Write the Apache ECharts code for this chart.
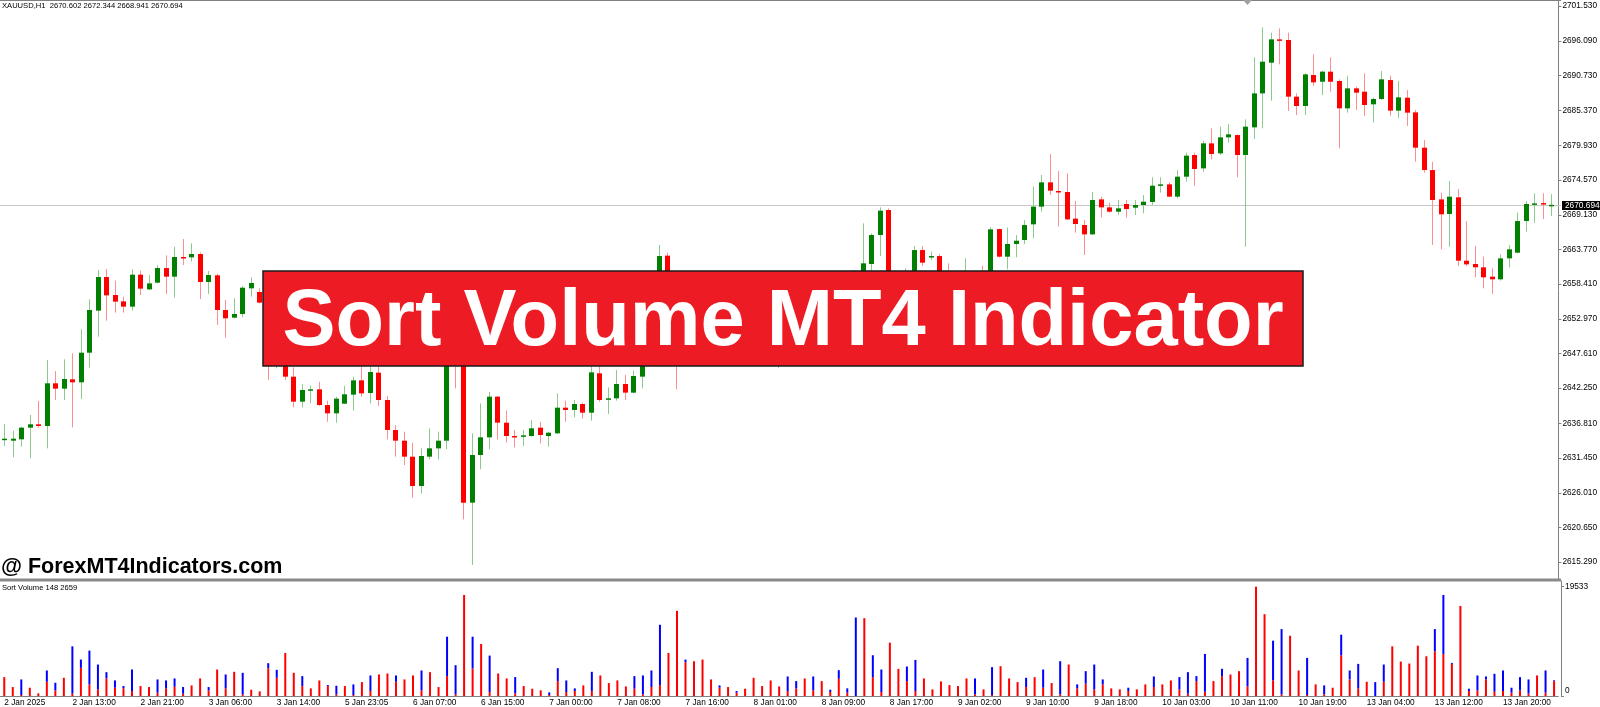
<!DOCTYPE html>
<html>
<head>
<meta charset="utf-8">
<title>Sort Volume MT4 Indicator</title>
<script src="https://cdn.jsdelivr.net/npm/echarts@6/dist/echarts.min.js"></script>
<style>
    html, body { margin: 0; padding: 0; background: #fff; }
    #chart { width: 1600px; height: 707px; }
</style>
</head>
<body>
<div id="chart"></div>
<script>
// XAUUSD H1, one label every 8 bars
var timeLabels = ['2 Jan 2025', '2 Jan 13:00', '2 Jan 21:00', '3 Jan 06:00', '3 Jan 14:00', '5 Jan 23:05',
    '6 Jan 07:00', '6 Jan 15:00', '7 Jan 00:00', '7 Jan 08:00', '7 Jan 16:00', '8 Jan 01:00', '8 Jan 09:00',
    '8 Jan 17:00', '9 Jan 02:00', '9 Jan 10:00', '9 Jan 18:00', '10 Jan 03:00', '10 Jan 11:00', '10 Jan 19:00',
    '13 Jan 04:00', '13 Jan 12:00', '13 Jan 20:00'];

var priceTicks = [2701.53, 2696.09, 2690.73, 2685.37, 2679.93, 2674.57, 2669.13, 2663.77, 2658.41,
    2652.97, 2647.61, 2642.25, 2636.81, 2631.45, 2626.01, 2620.65, 2615.29];
var volumeTicks = [0, 19533];
var lastPrice = 2670.694;

var openPrice = [
    2634.22, 2634.11, 2634.32, 2636.13, 2636.65, 2636.39, 2643.01, 2642.18, 2643.63, 2643.16,
    2647.76, 2654.28, 2659.50, 2656.71, 2655.72, 2654.90, 2659.86, 2657.58, 2658.62, 2660.89,
    2659.55, 2662.60, 2662.55, 2663.06, 2658.72, 2659.76, 2654.38, 2653.19, 2653.76, 2657.74,
    2657.17, 2655.52, 2648.00, 2650.00, 2644.04, 2640.16, 2641.97, 2642.08, 2639.64, 2638.35,
    2639.85, 2641.25, 2643.47, 2641.51, 2644.66, 2640.42, 2635.77, 2634.11, 2631.63, 2627.08,
    2631.63, 2632.92, 2634.11, 2651.50, 2648.00, 2624.50, 2631.89, 2634.63, 2640.94, 2636.90,
    2634.84, 2634.73, 2634.84, 2636.13, 2634.84, 2635.25, 2639.23, 2638.87, 2639.80, 2638.45,
    2644.56, 2640.52, 2640.68, 2642.90, 2641.56, 2644.04, 2648.50, 2651.50, 2662.81, 2652.00,
    2648.00, 2649.30, 2650.60, 2649.50, 2651.20, 2652.40, 2650.90, 2649.60, 2648.40, 2650.10,
    2648.80, 2647.20, 2648.50, 2650.20, 2655.90, 2656.60, 2651.20, 2654.00, 2652.60, 2654.40,
    2655.30, 2659.20, 2661.51, 2666.01, 2669.89, 2656.00, 2652.00, 2659.00, 2663.68, 2662.65,
    2662.75, 2657.50, 2654.00, 2656.00, 2659.00, 2656.00, 2655.00, 2666.94, 2662.65, 2664.62,
    2665.24, 2667.67, 2670.41, 2674.18, 2672.84, 2672.68, 2668.55, 2667.56, 2666.11, 2671.54,
    2670.30, 2669.63, 2670.82, 2670.25, 2670.67, 2671.13, 2673.66, 2673.87, 2671.96, 2675.06,
    2678.42, 2676.35, 2680.23, 2678.68, 2681.16, 2681.52, 2678.42, 2682.71, 2687.98, 2692.74,
    2696.36, 2696.26, 2687.47, 2686.02, 2690.83, 2689.79, 2691.35, 2689.90, 2685.66, 2688.76,
    2688.24, 2686.28, 2687.11, 2690.05, 2685.30, 2687.31, 2685.04, 2679.56, 2676.09, 2671.54,
    2669.27, 2671.86, 2662.03, 2661.52, 2661.00, 2659.55, 2659.14, 2662.39, 2663.27, 2668.18,
    2670.72, 2670.97, 2670.602
];
var highPrice = [
    2636.70, 2635.66, 2636.28, 2638.09, 2640.27, 2646.62, 2644.92, 2646.73, 2647.66, 2651.38,
    2656.03, 2660.58, 2660.74, 2658.93, 2656.45, 2660.69, 2660.48, 2659.81, 2661.36, 2662.86,
    2664.20, 2665.39, 2664.72, 2663.30, 2660.43, 2660.00, 2655.93, 2656.19, 2658.10, 2659.45,
    2657.74, 2656.50, 2651.50, 2651.00, 2645.50, 2642.85, 2642.64, 2643.26, 2640.32, 2640.94,
    2642.64, 2644.04, 2645.59, 2645.59, 2645.59, 2641.04, 2636.54, 2635.51, 2633.80, 2632.92,
    2636.02, 2635.51, 2653.00, 2656.00, 2650.00, 2635.25, 2639.90, 2641.66, 2641.04, 2638.77,
    2635.77, 2635.77, 2637.32, 2637.06, 2635.51, 2641.45, 2640.32, 2640.42, 2640.00, 2646.00,
    2645.70, 2642.38, 2645.07, 2644.30, 2644.97, 2649.50, 2652.50, 2664.46, 2663.27, 2653.50,
    2650.20, 2651.50, 2652.00, 2651.80, 2653.00, 2653.60, 2652.20, 2651.00, 2650.50, 2651.30,
    2649.90, 2649.00, 2650.80, 2656.50, 2657.30, 2657.80, 2654.70, 2655.20, 2655.00, 2656.20,
    2660.60, 2667.82, 2666.27, 2670.30, 2670.15, 2657.00, 2660.84, 2664.30, 2664.30, 2663.43,
    2663.07, 2661.62, 2658.00, 2662.39, 2660.00, 2661.25, 2667.20, 2667.00, 2667.15, 2666.01,
    2668.34, 2673.51, 2675.32, 2678.57, 2675.94, 2675.58, 2671.29, 2668.34, 2672.68, 2671.96,
    2671.03, 2671.44, 2671.44, 2671.44, 2672.22, 2674.96, 2674.96, 2674.18, 2676.09, 2678.78,
    2678.78, 2680.64, 2682.56, 2682.82, 2683.23, 2681.60, 2683.95, 2693.57, 2698.22, 2697.40,
    2698.07, 2697.40, 2687.98, 2691.09, 2694.03, 2691.50, 2693.57, 2690.16, 2690.72, 2689.02,
    2691.09, 2687.30, 2691.45, 2690.72, 2689.90, 2688.50, 2685.40, 2680.75, 2677.39, 2672.58,
    2674.39, 2673.15, 2668.18, 2664.36, 2662.65, 2660.84, 2663.01, 2664.46, 2669.48, 2671.29,
    2672.47, 2672.47, 2672.344
];
var lowPrice = [
    2633.28, 2631.53, 2633.18, 2631.37, 2636.13, 2632.92, 2640.42, 2640.42, 2636.18, 2640.57,
    2645.43, 2650.24, 2652.72, 2653.97, 2653.97, 2654.28, 2656.71, 2657.48, 2658.51, 2656.86,
    2656.29, 2661.36, 2661.88, 2656.08, 2656.86, 2652.05, 2650.09, 2653.09, 2653.24, 2656.45,
    2655.41, 2643.52, 2645.33, 2643.52, 2639.28, 2639.28, 2639.90, 2639.49, 2637.06, 2636.90,
    2639.80, 2638.77, 2640.94, 2639.90, 2639.49, 2634.32, 2631.63, 2630.34, 2625.27, 2625.94,
    2631.22, 2631.22, 2632.77, 2642.23, 2621.91, 2614.83, 2629.67, 2632.77, 2634.32, 2633.80,
    2633.08, 2633.28, 2634.73, 2633.70, 2633.18, 2635.15, 2637.06, 2637.73, 2637.52, 2637.21,
    2640.16, 2638.25, 2640.32, 2640.42, 2641.45, 2642.23, 2647.50, 2650.50, 2650.50, 2642.08,
    2646.80, 2648.00, 2648.90, 2648.50, 2650.00, 2650.30, 2649.10, 2647.80, 2647.60, 2648.20,
    2646.40, 2645.40, 2647.90, 2649.80, 2654.40, 2650.00, 2650.60, 2652.00, 2651.90, 2653.10,
    2654.60, 2658.50, 2660.50, 2662.75, 2654.00, 2650.00, 2651.00, 2657.50, 2661.20, 2662.13,
    2656.00, 2652.00, 2652.50, 2655.00, 2654.50, 2653.00, 2654.00, 2662.50, 2660.69, 2662.55,
    2664.62, 2665.49, 2669.63, 2672.22, 2667.30, 2668.34, 2666.37, 2662.91, 2666.01, 2668.75,
    2669.48, 2669.11, 2668.70, 2669.11, 2669.37, 2670.67, 2672.58, 2671.86, 2671.70, 2674.29,
    2673.66, 2675.84, 2677.75, 2678.42, 2680.39, 2674.96, 2664.20, 2680.90, 2682.56, 2686.85,
    2692.48, 2685.25, 2684.63, 2684.63, 2689.12, 2687.73, 2688.24, 2679.45, 2684.99, 2685.40,
    2684.47, 2683.44, 2686.95, 2684.52, 2684.11, 2682.92, 2677.39, 2675.68, 2664.46, 2663.79,
    2664.20, 2661.20, 2661.20, 2659.45, 2657.74, 2656.86, 2658.93, 2661.00, 2663.17, 2666.53,
    2667.92, 2668.49, 2668.941
];
var closePrice = [
    2634.42, 2634.42, 2636.13, 2636.65, 2636.39, 2643.01, 2642.18, 2643.68, 2643.16, 2647.76,
    2654.38, 2659.50, 2656.65, 2655.67, 2654.90, 2659.86, 2657.69, 2658.51, 2660.89, 2659.55,
    2662.60, 2662.50, 2663.06, 2658.72, 2659.81, 2654.38, 2653.09, 2653.76, 2657.84, 2658.57,
    2655.52, 2648.00, 2650.00, 2644.04, 2640.16, 2641.97, 2642.08, 2639.64, 2638.35, 2640.63,
    2641.30, 2643.47, 2641.45, 2644.76, 2640.42, 2635.77, 2634.11, 2631.63, 2627.08, 2631.73,
    2632.92, 2634.11, 2651.50, 2648.00, 2624.50, 2631.89, 2634.63, 2640.94, 2636.90, 2634.84,
    2634.63, 2634.94, 2636.03, 2634.99, 2635.35, 2639.23, 2638.87, 2639.80, 2638.45, 2644.71,
    2640.42, 2640.68, 2642.90, 2641.56, 2644.14, 2648.50, 2651.50, 2662.75, 2652.00, 2648.00,
    2649.30, 2650.60, 2649.50, 2651.20, 2652.40, 2650.90, 2649.60, 2648.40, 2650.10, 2648.80,
    2647.20, 2648.50, 2650.20, 2655.90, 2656.60, 2651.20, 2654.00, 2652.60, 2654.40, 2655.30,
    2659.20, 2661.62, 2666.01, 2669.79, 2656.00, 2652.00, 2659.00, 2663.68, 2661.72, 2662.75,
    2657.50, 2654.00, 2656.00, 2659.00, 2656.00, 2655.00, 2666.89, 2662.65, 2664.62, 2665.13,
    2667.56, 2670.41, 2674.18, 2672.89, 2672.68, 2668.44, 2667.72, 2666.11, 2671.44, 2670.30,
    2669.63, 2670.15, 2670.04, 2670.67, 2671.18, 2673.66, 2673.87, 2671.96, 2675.06, 2678.32,
    2676.25, 2680.23, 2678.58, 2681.16, 2681.63, 2678.42, 2682.82, 2687.98, 2692.90, 2696.36,
    2696.15, 2687.47, 2686.02, 2690.93, 2689.69, 2691.35, 2689.79, 2685.66, 2688.76, 2688.09,
    2686.18, 2687.11, 2690.16, 2685.30, 2687.37, 2684.99, 2679.56, 2676.09, 2671.44, 2669.22,
    2671.96, 2662.03, 2661.46, 2661.00, 2659.45, 2659.14, 2662.39, 2663.79, 2668.18, 2670.82,
    2670.92, 2670.77, 2670.694
];

// Sort Volume: red part at the bottom, blue part stacked on top
var redVolume = [
    3374, 1598, 178, 1480, 474, 2545, 1006, 3255, 414, 5031,
    2072, 1184, 3137, 1480, 1361, 888, 1776, 1598, 592, 1361,
    1657, 414, 1894, 3137, 1006, 4735, 1361, 4321, 296, 1125,
    829, 4972, 3255, 7695, 4143, 1776, 1361, 2782, 1776, 296,
    1776, 178, 2486, 888, 3847, 4025, 2545, 2960, 3670, 1006,
    4262, 1598, 3551, 296, 18053, 4913, 9293, 710, 4025, 3137,
    474, 1776, 1302, 1006, 178, 2664, 710, 888, 1894, 888,
    3670, 2308, 2782, 1717, 1302, 296, 1598, 1953, 7695, 15212,
    6037, 6215, 6511, 2960, 1480, 1598, 592, 1302, 3255, 1776,
    2782, 1717, 888, 1361, 3137, 1006, 2664, 710, 3078, 592,
    0, 13910, 3374, 710, 9530, 4854, 2664, 888, 3137, 1184,
    2604, 1953, 1776, 3137, 296, 1184, 178, 5327, 3137, 2486,
    1598, 3374, 1480, 2308, 296, 5623, 1361, 2190, 1184, 2072,
    1361, 1184, 888, 1184, 2072, 1598, 2072, 2782, 1184, 414,
    2664, 770, 2664, 3551, 3847, 4439, 1717, 19533, 14620, 2782,
    296, 10773, 4558, 178, 2072, 296, 1480, 7280, 2960, 1361,
    2545, 0, 2545, 8879, 6156, 5801, 8997, 7103, 7991, 7517,
    5741, 16100, 888, 1006, 2960, 770, 888, 592, 1006, 414,
    3670, 592, 2659
];
var blueVolume = [
    0, 0, 2782, 0, 0, 2012, 1361, 0, 8464, 1480,
    6037, 4439, 1125, 1302, 414, 3847, 0, 0, 2368, 1421,
    1480, 1184, 0, 0, 592, 0, 2486, 0, 3847, 0,
    0, 888, 1421, 0, 0, 1776, 0, 0, 178, 1539,
    0, 1894, 0, 2782, 0, 0, 1125, 0, 0, 3551,
    0, 0, 7044, 5209, 0, 5682, 0, 6511, 0, 0,
    2900, 0, 0, 0, 474, 2308, 2072, 474, 0, 3433,
    0, 0, 0, 0, 2249, 3374, 2960, 10773, 0, 0,
    474, 0, 0, 0, 414, 0, 296, 0, 0, 0,
    0, 0, 2604, 1302, 0, 2486, 0, 414, 1539, 769,
    14028, 0, 3907, 4025, 0, 0, 2604, 5564, 0, 0,
    0, 0, 0, 0, 2841, 0, 4972, 0, 0, 0,
    1657, 0, 3255, 0, 5919, 0, 710, 2249, 4439, 888,
    0, 0, 592, 0, 0, 1894, 0, 0, 2190, 3847,
    888, 6748, 0, 1302, 0, 0, 5090, 0, 0, 7103,
    11660, 0, 0, 6629, 0, 1598, 0, 3670, 1598, 4380,
    0, 2486, 3078, 0, 0, 0, 0, 0, 3966, 10536,
    178, 0, 414, 2664, 533, 3196, 3670, 888, 2368, 2545,
    0, 3966, 148
];

var barSlots = openPrice.map(function (v, i) {
    return i % 8 === 0 ? timeLabels[i / 8] : String(i);
});
var candleRows = openPrice.map(function (o, i) {
    return [i, o, highPrice[i], lowPrice[i], closePrice[i]];
});

var font = '"Liberation Sans", Arial, sans-serif';

function drawCandle(params, api) {
    var i = api.value(0);
    var o = api.value(1), h = api.value(2), l = api.value(3), c = api.value(4);
    var pH = api.coord([i, h]), pL = api.coord([i, l]);
    var pO = api.coord([i, o]), pC = api.coord([i, c]);
    var xi = Math.round(pH[0]);
    var up = c >= o;
    var top = Math.min(pO[1], pC[1]);
    var bh = Math.max(Math.abs(pO[1] - pC[1]), 1.5);
    return {
        type: 'group',
        children: [{
            type: 'line',
            shape: { x1: xi + 0.5, y1: pH[1], x2: xi + 0.5, y2: pL[1] },
            style: { stroke: up ? '#8ccb8c' : '#ff8f8f', lineWidth: 1 }
        }, {
            type: 'rect',
            shape: { x: xi - 2, y: top, width: 5, height: bh },
            style: { fill: up ? '#007f00' : '#ff0000' }
        }]
    };
}

var chart = echarts.init(document.getElementById('chart'));
var option = {
    animation: false,
    backgroundColor: '#ffffff',
    grid: [
        { left: -4.27, right: 41.67, top: 1, height: 579 },
        { left: -4.27, right: 41.67, top: 581, bottom: 10.3 }
    ],
    xAxis: [{
        type: 'category',
        gridIndex: 0,
        data: barSlots,
        axisLine: { show: false },
        axisTick: { show: false },
        axisLabel: { show: false }
    }, {
        type: 'category',
        gridIndex: 1,
        data: barSlots,
        axisLine: { lineStyle: { color: '#808080', width: 1 } },
        axisTick: { alignWithLabel: true, interval: 7, length: 3, lineStyle: { color: '#808080' } },
        axisLabel: {
            interval: 7, align: 'left', margin: 3,
            fontSize: 8.3, fontFamily: font, color: '#000'
        }
    }],
    yAxis: [{
        type: 'value',
        gridIndex: 0,
        position: 'right',
        offset: 2.7,
        min: 2612.50,
        max: 2702.31,
        splitLine: { show: false },
        axisLine: { show: true, lineStyle: { color: '#808080' } },
        axisTick: { show: true, length: 3, customValues: priceTicks, lineStyle: { color: '#808080' } },
        axisLabel: {
            customValues: priceTicks,
            formatter: function (v) { return v.toFixed(3); },
            margin: 4, fontSize: 8.3, fontFamily: font, color: '#000'
        }
    }, {
        type: 'value',
        gridIndex: 1,
        position: 'right',
        offset: 2.7,
        min: 0,
        max: 20550,
        splitLine: { show: false },
        axisLine: { show: true, lineStyle: { color: '#808080' } },
        axisTick: { show: true, length: 3, customValues: volumeTicks, lineStyle: { color: '#808080' } },
        axisLabel: {
            customValues: volumeTicks,
            formatter: function (v) { return v === 0 ? '{z|0}' : String(v); },
            rich: { z: { padding: [0, 0, 10, 0], fontSize: 8.3, fontFamily: font, color: '#000' } },
            margin: 4, fontSize: 8.3, fontFamily: font, color: '#000'
        }
    }],
    series: [{
        name: 'XAUUSD',
        type: 'custom',
        xAxisIndex: 0,
        yAxisIndex: 0,
        renderItem: drawCandle,
        encode: { x: 0, y: [1, 2, 3, 4] },
        data: candleRows,
        z: 3
    }, {
        name: 'red',
        type: 'bar',
        xAxisIndex: 1,
        yAxisIndex: 1,
        stack: 'vol',
        barWidth: 2,
        itemStyle: { color: '#ff0000' },
        data: redVolume
    }, {
        name: 'blue',
        type: 'bar',
        xAxisIndex: 1,
        yAxisIndex: 1,
        stack: 'vol',
        barWidth: 2,
        itemStyle: { color: '#0000ff' },
        data: blueVolume
    }]
};
chart.setOption(option);

// price line + decorations
var lineY = Math.round(chart.convertToPixel({ yAxisIndex: 0 }, lastPrice)) + 0.5;
chart.setOption({
    graphic: [
        { type: 'rect', z: 1, shape: { x: 0, y: 0, width: 1561, height: 1 }, style: { fill: '#808080' } },
        { type: 'rect', z: 1, shape: { x: 0, y: 578.5, width: 1561, height: 3 }, style: { fill: '#8a8a8a' } },
        { type: 'line', z: 1, shape: { x1: 0, y1: lineY, x2: 1561, y2: lineY }, style: { stroke: '#c8c8c8', lineWidth: 1 } },
        { type: 'rect', z: 60, shape: { x: 1562, y: lineY - 4.5, width: 38, height: 9 }, style: { fill: '#000' } },
        {
            type: 'text', z: 61, x: 1565, y: lineY,
            style: { text: lastPrice.toFixed(3), fill: '#fff', fontSize: 8.3, fontFamily: font, verticalAlign: 'middle' }
        },
        { type: 'polygon', z: 5, shape: { points: [[1243, 0], [1252, 0], [1247.5, 5]] }, style: { fill: '#a0a0a0' } },
        {
            type: 'text', z: 5, x: 2, y: 6,
            style: {
                text: 'XAUUSD,H1  2670.602 2672.344 2668.941 2670.694',
                fill: '#000', fontSize: 7.6, fontFamily: font, verticalAlign: 'middle'
            }
        },
        {
            type: 'text', z: 5, x: 2, y: 588,
            style: { text: 'Sort Volume 148 2659', fill: '#000', fontSize: 7.6, fontFamily: font, verticalAlign: 'middle' }
        },
        {
            type: 'text', z: 50, x: 1, y: 567,
            style: {
                text: '@ ForexMT4Indicators.com', fill: '#000', fontSize: 21.5,
                fontWeight: 'bold', fontFamily: font, verticalAlign: 'middle'
            }
        },
        {
            type: 'rect', z: 50,
            shape: { x: 263, y: 271, width: 1040, height: 95 },
            style: { fill: '#ed1c24', stroke: '#1a1a1a', lineWidth: 1.5 }
        },
        {
            type: 'text', z: 51, x: 783, y: 323,
            style: {
                text: 'Sort Volume MT4 Indicator', fill: '#fff', fontSize: 79.5,
                fontWeight: 'bold', fontFamily: font, align: 'center', verticalAlign: 'middle'
            }
        }
    ]
});
</script>
</body>
</html>
